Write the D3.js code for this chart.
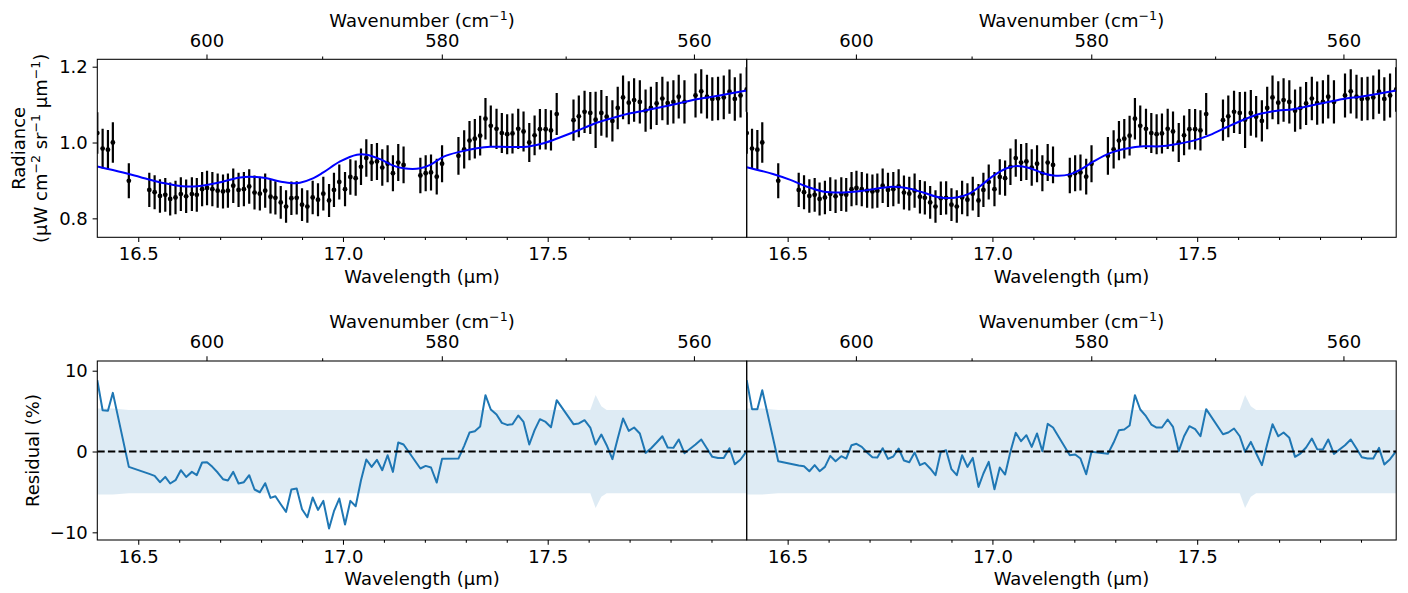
<!DOCTYPE html>
<html>
<head>
<meta charset="utf-8">
<script src="https://cdn.jsdelivr.net/npm/d3@7"></script>
<style>
  html, body { margin: 0; padding: 0; background: #fff; }
  svg { display: block; font-family: "DejaVu Sans", sans-serif; }
</style>
</head>
<body>
<svg id="chart" width="1408" height="593"></svg>
<script>
// ---------------- DATA ----------------
const wavelength = [
  16.400, 16.413, 16.426, 16.438,
  16.477,
  16.527, 16.540, 16.553, 16.566, 16.578, 16.591, 16.604, 16.617, 16.631, 16.643,
  16.656, 16.668, 16.681, 16.694, 16.707, 16.719, 16.732, 16.745, 16.758, 16.771,
  16.784, 16.797, 16.810, 16.823, 16.835, 16.848, 16.861, 16.874, 16.887, 16.900,
  16.913, 16.926, 16.939, 16.952, 16.966, 16.978, 16.991, 17.005, 17.018, 17.031,
  17.044, 17.057, 17.070, 17.083, 17.096, 17.109, 17.122, 17.135, 17.148,
  17.189, 17.202, 17.215, 17.229, 17.242,
  17.282, 17.296, 17.309, 17.322, 17.335, 17.348, 17.361, 17.375, 17.388, 17.401,
  17.414, 17.428, 17.441, 17.455, 17.468, 17.481, 17.495, 17.508, 17.522,
  17.563, 17.576, 17.590, 17.604, 17.617, 17.631, 17.644, 17.658, 17.671, 17.684,
  17.698, 17.711, 17.725, 17.739, 17.752, 17.766, 17.780, 17.793, 17.807, 17.820, 17.834,
  17.861, 17.875, 17.889, 17.902, 17.916, 17.930, 17.944, 17.957, 17.971, 17.986
];
const radiance = [
  1.025, 0.984, 0.981, 1.000,
  0.899,
  0.875, 0.869, 0.859, 0.862, 0.851, 0.855, 0.864, 0.858, 0.864, 0.862,
  0.877, 0.880, 0.877, 0.873, 0.871, 0.873, 0.886, 0.875, 0.877, 0.884,
  0.868, 0.865, 0.873, 0.857, 0.854, 0.842, 0.831, 0.853, 0.854, 0.836,
  0.831, 0.855, 0.849, 0.865, 0.847, 0.875, 0.896, 0.877, 0.909, 0.906,
  0.936, 0.959, 0.947, 0.950, 0.934, 0.944, 0.919, 0.947, 0.941,
  0.913, 0.919, 0.921, 0.910, 0.944,
  0.965, 0.982, 1.005, 1.010, 1.018, 1.063, 1.044, 1.036, 1.025, 1.022,
  1.024, 1.036, 1.029, 1.000, 1.019, 1.035, 1.035, 1.032, 1.075,
  1.059, 1.069, 1.081, 1.078, 1.060, 1.078, 1.068, 1.057, 1.091, 1.119,
  1.105, 1.112, 1.107, 1.084, 1.091, 1.103, 1.116, 1.104, 1.107, 1.121, 1.107,
  1.124, 1.135, 1.121, 1.115, 1.116, 1.119, 1.134, 1.115, 1.124, 1.140
];
// 1-sigma uncertainty in percent of the radiance
const errorPct = [
  5.33, 5.33, 5.33, 5.33,
  5.15,
  5.15, 5.15, 5.15, 5.15, 5.15, 5.15, 5.15, 5.15, 5.15, 5.15,
  5.15, 5.15, 5.15, 5.15, 5.15, 5.15, 5.15, 5.15, 5.15, 5.15,
  5.15, 5.15, 5.15, 5.15, 5.15, 5.15, 5.15, 5.15, 5.15, 5.15,
  5.15, 5.15, 5.15, 5.15, 5.15, 5.15, 5.15, 5.15, 5.15, 5.15,
  5.15, 5.15, 5.15, 5.15, 5.15, 5.15, 5.15, 5.15, 5.15,
  5.15, 5.15, 5.15, 5.15, 5.15,
  5.15, 5.15, 5.15, 5.15, 5.15, 5.15, 5.15, 5.15, 5.15, 5.15,
  5.15, 5.15, 5.15, 5.15, 5.15, 5.15, 5.15, 5.15, 5.15,
  5.15, 5.15, 5.15, 5.15, 7.00, 5.60, 5.15, 5.15, 5.15, 5.15,
  5.15, 5.15, 5.15, 5.15, 5.15, 5.15, 5.15, 5.15, 5.15, 5.15, 5.15,
  5.15, 5.15, 5.15, 5.15, 5.15, 5.15, 5.15, 5.15, 5.15, 5.15
];
const residualLeft = [
  8.82, 5.11, 5.03, 7.26,
  -1.90,
  -2.77, -3.01, -3.80, -3.14, -3.96, -3.55, -2.31, -3.14, -2.52, -2.93,
  -1.36, -1.32, -1.90, -2.60, -3.43, -3.59, -2.52, -3.96, -3.80, -2.93,
  -4.70, -5.04, -3.92, -5.74, -5.53, -6.52, -7.47, -4.70, -4.58, -7.14,
  -8.13, -5.69, -7.23, -6.11, -9.53, -7.39, -5.82, -9.03, -6.11, -6.77,
  -3.55, -0.99, -1.90, -1.04, -2.31, -0.46, -2.52, 1.11, 0.87,
  -2.10, -1.78, -1.98, -3.84, -0.91,
  -0.87, 0.70, 2.35, 2.51, 3.09, 6.97, 5.20, 4.58, 3.54, 3.29,
  3.38, 4.46, 3.66, 0.87, 2.64, 4.00, 3.66, 3.01, 6.35,
  3.38, 3.47, 3.87, 2.97, 0.87, 2.10, 0.78, -0.95, 1.61, 4.08,
  2.55, 2.97, 2.23, -0.17, 0.37, 1.11, 1.89, 0.49, 0.45, 1.49, -0.21,
  0.87, 1.49, 0.37, -0.66, -0.79, -0.79, 0.41, -1.57, -0.99, 0.04
];
const residualRight = [
  8.82, 5.24, 5.24, 7.59,
  -1.20,
  -1.73, -1.82, -2.44, -1.69, -2.44, -1.90, -0.54, -1.20, -0.58, -0.87,
  0.78, 0.95, 0.57, -0.12, -0.70, -0.74, 0.41, -0.91, -0.62, 0.37,
  -1.11, -1.32, -0.12, -1.69, -1.41, -2.10, -2.93, -0.04, 0.16, -2.19,
  -2.93, -0.46, -1.90, -0.79, -4.38, -2.72, -1.28, -4.67, -1.98, -2.85,
  -0.04, 2.31, 1.28, 2.02, 0.57, 2.23, 0.04, 3.42, 2.97,
  -0.46, -0.37, -0.87, -2.81, -0.04,
  -0.29, 1.11, 2.64, 2.72, 3.21, 6.97, 5.20, 4.37, 3.34, 2.97,
  2.97, 3.96, 3.05, 0.04, 1.89, 3.13, 2.76, 1.89, 5.24,
  2.14, 2.35, 2.85, 1.89, -0.04, 1.19, -0.21, -1.69, 0.90, 3.38,
  1.89, 2.35, 1.69, -0.66, -0.25, 0.49, 1.61, 0.29, 0.25, 1.49, -0.29,
  0.78, 1.49, 0.37, -0.70, -0.87, -0.87, 0.45, -1.61, -0.95, 0.04
];
// model spectra (smooth curves), sampled at knots
const modelLeftWl = [16.400, 16.463, 16.504, 16.545, 16.586, 16.626, 16.667, 16.708, 16.749, 16.789,
  16.814, 16.838, 16.871, 16.895, 16.928, 16.952, 16.993, 17.034, 17.058, 17.091, 17.123, 17.148,
  17.189, 17.213, 17.246, 17.287, 17.327, 17.360, 17.409, 17.450, 17.490, 17.531, 17.572, 17.612,
  17.653, 17.694, 17.735, 17.776, 17.816, 17.857, 17.898, 17.939, 17.986];
const modelLeft = [0.937, 0.921, 0.909, 0.897, 0.888, 0.884, 0.888, 0.897, 0.908, 0.909,
  0.906, 0.899, 0.893, 0.894, 0.906, 0.921, 0.950, 0.968, 0.968, 0.956, 0.939, 0.932,
  0.932, 0.941, 0.963, 0.976, 0.985, 0.989, 0.988, 0.989, 0.998, 1.014, 1.031, 1.049,
  1.063, 1.075, 1.084, 1.093, 1.102, 1.113, 1.120, 1.128, 1.137];
const modelRightWl = [16.400, 16.464, 16.505, 16.546, 16.586, 16.627, 16.668, 16.709, 16.749, 16.790,
  16.831, 16.872, 16.912, 16.945, 16.969, 17.002, 17.035, 17.059, 17.092, 17.124, 17.149,
  17.189, 17.214, 17.247, 17.287, 17.328, 17.369, 17.410, 17.450, 17.491, 17.532, 17.573,
  17.613, 17.654, 17.695, 17.735, 17.776, 17.817, 17.857, 17.898, 17.939, 17.986];
const modelRight = [0.935, 0.917, 0.902, 0.884, 0.871, 0.868, 0.871, 0.877, 0.883, 0.880,
  0.868, 0.855, 0.855, 0.866, 0.884, 0.912, 0.932, 0.938, 0.932, 0.919, 0.913,
  0.916, 0.928, 0.950, 0.972, 0.984, 0.990, 0.990, 0.996, 1.005, 1.020, 1.041,
  1.060, 1.076, 1.084, 1.088, 1.097, 1.106, 1.115, 1.121, 1.128, 1.137];

// tick values / labels
const wlMajorTicks = [16.5, 17.0, 17.5];
const wlMinorTicks = [16.6, 16.7, 16.8, 16.9, 17.1, 17.2, 17.3, 17.4, 17.6, 17.7, 17.8, 17.9];
const wnMajorTicks = [600, 580, 560];
const wnMinorTicks = [590, 570];
const radianceTicks = [0.8, 1.0, 1.2];
const residualTicks = [-10, 0, 10];

// ---------------- LAYOUT ----------------
const svg = d3.select("#chart");
const FONT = 18;
const SUP = 12.6, SUPDY = 7;
const cols = [{x0: 97.3, x1: 746.7}, {x0: 746.7, x1: 1396.2}];
const rows = [{y0: 59.3, y1: 237.3}, {y0: 361, y1: 540}];
const wlDomain = [16.400, 17.986];

function supText(sel, parts) {
  let prevSup = false;
  parts.forEach(([t, sup]) => {
    const ts = sel.append("tspan").text(t);
    if (sup) ts.attr("font-size", SUP).attr("dy", -SUPDY);
    else if (prevSup) ts.attr("dy", SUPDY);
    prevSup = sup;
  });
}

function styleAxis(g) {
  g.selectAll(".domain").remove();
  g.selectAll(".tick line").attr("stroke", "#000").attr("stroke-width", 1.05);
  g.selectAll(".tick text").attr("fill", "#000").attr("font-size", FONT)
    .attr("font-family", "DejaVu Sans, sans-serif");
}

const models = [[modelLeftWl, modelLeft], [modelRightWl, modelRight]];
const residuals = [residualLeft, residualRight];

cols.forEach((c, ci) => {
  const x = d3.scaleLinear().domain(wlDomain).range([c.x0, c.x1]);

  rows.forEach((r, ri) => {
    const clipId = `clip-${ci}-${ri}`;
    svg.append("clipPath").attr("id", clipId).append("rect")
      .attr("x", c.x0).attr("y", r.y0).attr("width", c.x1 - c.x0).attr("height", r.y1 - r.y0);

    const y = ri === 0
      ? d3.scaleLinear().domain([0.75, 1.2195]).range([r.y1, r.y0])
      : d3.scaleLinear().domain([-10.95, 11.2]).range([r.y1, r.y0]);

    const plot = svg.append("g").attr("clip-path", `url(#${clipId})`);

    if (ri === 0) {
      const pts = wavelength.map((w, i) => ({w, v: radiance[i], e: errorPct[i] / 100 * radiance[i]}));
      plot.selectAll("line.err").data(pts).enter().append("line")
        .attr("x1", d => x(d.w)).attr("x2", d => x(d.w))
        .attr("y1", d => y(d.v - d.e)).attr("y2", d => y(d.v + d.e))
        .attr("stroke", "#000").attr("stroke-width", 2.2);
      plot.selectAll("circle.pt").data(pts).enter().append("circle")
        .attr("cx", d => x(d.w)).attr("cy", d => y(d.v)).attr("r", 2.4).attr("fill", "#000");
      const [mw, mv] = models[ci];
      const line = d3.line().x((d, i) => x(mw[i])).y(d => y(d)).curve(d3.curveCatmullRom.alpha(0.5));
      plot.append("path").attr("d", line(mv)).attr("fill", "none")
        .attr("stroke", "#0000ff").attr("stroke-width", 2);
    } else {
      const area = d3.area().x((d, i) => x(wavelength[i])).y0(d => y(-d)).y1(d => y(d));
      plot.append("path").attr("d", area(errorPct)).attr("fill", "#1f77b4").attr("fill-opacity", 0.15);
      const line = d3.line().x((d, i) => x(wavelength[i])).y(d => y(d));
      plot.append("path").attr("d", line(residuals[ci])).attr("fill", "none")
        .attr("stroke", "#1f77b4").attr("stroke-width", 2).attr("stroke-linejoin", "round");
      plot.append("line").attr("x1", c.x0).attr("x2", c.x1).attr("y1", y(0)).attr("y2", y(0))
        .attr("stroke", "#000").attr("stroke-width", 2).attr("stroke-dasharray", "7.4,3.2");
    }

    // bottom axis (wavelength)
    const gb = svg.append("g").attr("transform", `translate(0,${r.y1})`)
      .call(d3.axisBottom(x).tickValues(wlMajorTicks).tickSize(4.7)
        .tickFormat(d3.format(".1f")));
    styleAxis(gb);
    gb.selectAll(".tick text").attr("dy", null).attr("y", 22.7);
    const gbm = svg.append("g").attr("transform", `translate(0,${r.y1})`)
      .call(d3.axisBottom(x).tickValues(wlMinorTicks).tickSize(2.7).tickFormat(""));
    styleAxis(gbm);

    // top axis (wavenumber) through the same scale: lambda = 1e4 / nu
    const gt = svg.append("g").attr("transform", `translate(0,${r.y0})`)
      .call(d3.axisTop(x).tickValues(wnMajorTicks.map(n => 1e4 / n)).tickSize(4.7)
        .tickFormat(w => d3.format(".0f")(1e4 / w)));
    styleAxis(gt);
    gt.selectAll(".tick text").attr("dy", null).attr("y", -12.6);
    const gtm = svg.append("g").attr("transform", `translate(0,${r.y0})`)
      .call(d3.axisTop(x).tickValues(wnMinorTicks.map(n => 1e4 / n)).tickSize(2.7).tickFormat(""));
    styleAxis(gtm);

    // left y axis only on left column
    if (ci === 0) {
      const fmt = ri === 0 ? d3.format(".1f") : d3.format("d");
      const gl = svg.append("g").attr("transform", `translate(${c.x0},0)`)
        .call(d3.axisLeft(y).tickValues(ri === 0 ? radianceTicks : residualTicks)
          .tickSize(4.7).tickPadding(4.8)
          .tickFormat(d => fmt(d).replace("-", "\u2212")));
      styleAxis(gl);
    }

    // frame
    svg.append("rect").attr("x", c.x0).attr("y", r.y0).attr("width", c.x1 - c.x0).attr("height", r.y1 - r.y0)
      .attr("fill", "none").attr("stroke", "#000").attr("stroke-width", 1.05);

    // axis titles
    const cx = (c.x0 + c.x1) / 2;
    const t1 = svg.append("text").attr("x", cx).attr("y", r.y0 - 32.6).attr("text-anchor", "middle")
      .attr("font-size", FONT);
    supText(t1, [["Wavenumber (cm", false], ["\u22121", true], [")", false]]);
    svg.append("text").attr("x", cx).attr("y", r.y1 + 45.2).attr("text-anchor", "middle")
      .attr("font-size", FONT).text("Wavelength (\u03bcm)");
  });
});

// y-axis titles
const cyTop = (rows[0].y0 + rows[0].y1) / 2;
svg.append("text").attr("transform", `translate(24.5,${cyTop}) rotate(-90)`).attr("text-anchor", "middle")
  .attr("font-size", FONT).text("Radiance");
const yl2 = svg.append("text").attr("transform", `translate(46.5,${cyTop}) rotate(-90)`).attr("text-anchor", "middle")
  .attr("font-size", FONT);
supText(yl2, [["(\u03bcW cm", false], ["\u22122", true], [" sr", false], ["\u22121", true], [" \u03bcm", false], ["\u22121", true], [")", false]]);
const cyBot = (rows[1].y0 + rows[1].y1) / 2;
svg.append("text").attr("transform", `translate(38.6,${cyBot}) rotate(-90)`).attr("text-anchor", "middle")
  .attr("font-size", FONT).text("Residual (%)");
</script>
</body>
</html>
